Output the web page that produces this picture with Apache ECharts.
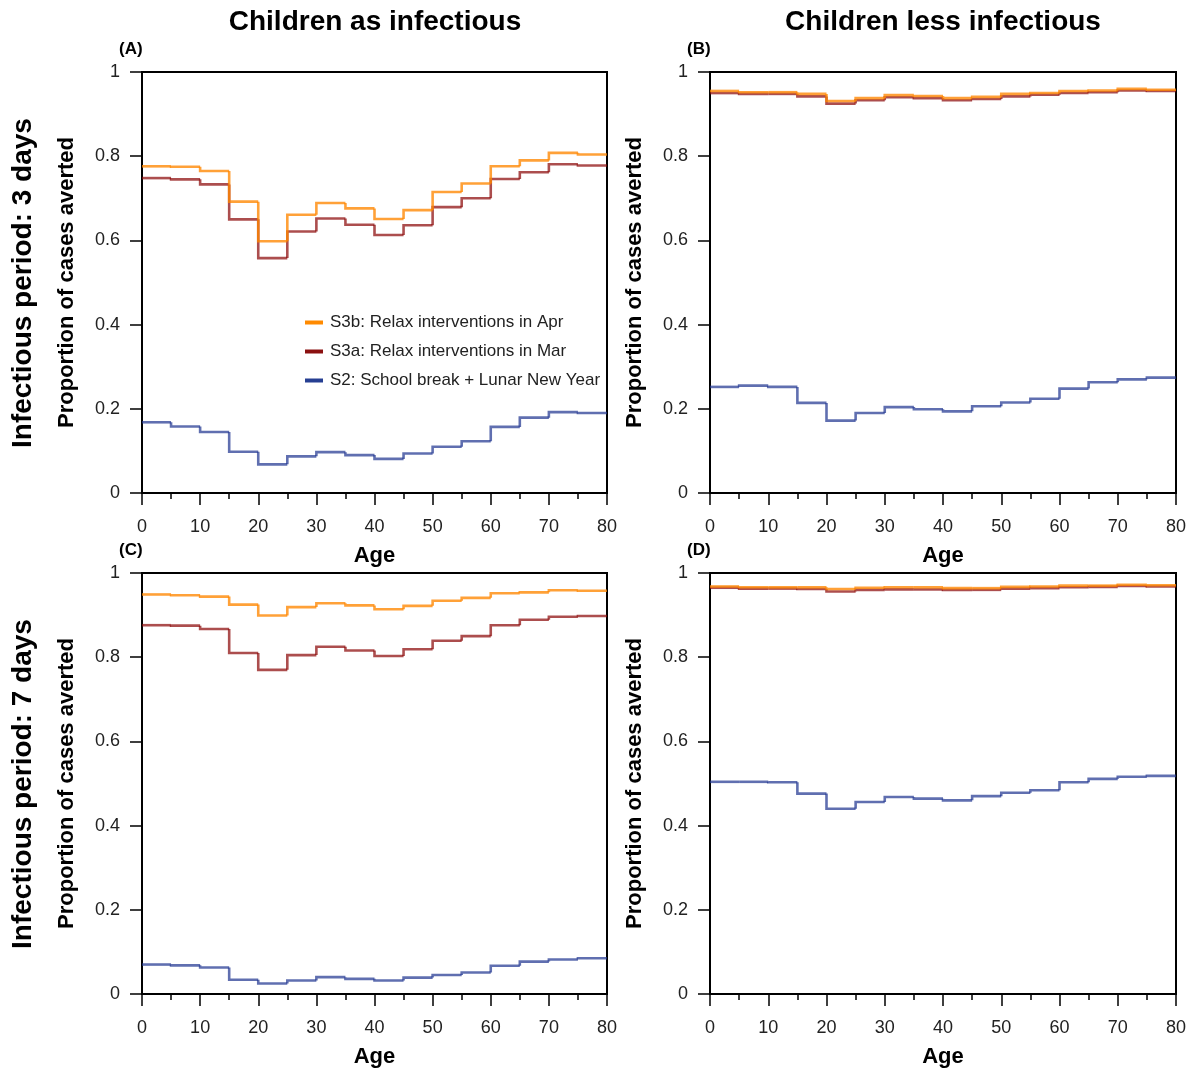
<!DOCTYPE html>
<html>
<head>
<meta charset="utf-8">
<script src="https://cdn.jsdelivr.net/npm/echarts@6/dist/echarts.min.js"></script>
<style>
  html, body { margin: 0; padding: 0; background: #fff; }
  #main { width: 1192px; height: 1070px; }
</style>
</head>
<body>
<div id="main"></div>
<script>
// age group lower bounds (5-year bins, last bin ends at 80)
const ages = [0, 5, 10, 15, 20, 25, 30, 35, 40, 45, 50, 55, 60, 65, 70, 75];
const ageMax = 80;

const seriesNames = ['S2: School break + Lunar New Year', 'S3a: Relax interventions in Mar', 'S3b: Relax interventions in Apr'];
const legendOrder = ['S3b: Relax interventions in Apr', 'S3a: Relax interventions in Mar', 'S2: School break + Lunar New Year'];

// (A) infectious 3 days, children as infectious
const a_S2  = [0.168, 0.158, 0.145, 0.098, 0.068, 0.087, 0.097, 0.090, 0.081, 0.094, 0.110, 0.123, 0.157, 0.179, 0.192, 0.190];
const a_S3a = [0.748, 0.745, 0.733, 0.650, 0.558, 0.621, 0.652, 0.637, 0.613, 0.636, 0.679, 0.700, 0.746, 0.762, 0.781, 0.778];
const a_S3b = [0.776, 0.775, 0.765, 0.692, 0.598, 0.661, 0.689, 0.676, 0.651, 0.672, 0.715, 0.735, 0.776, 0.790, 0.808, 0.804];

// (B) infectious 3 days, children less infectious
const b_S2  = [0.252, 0.255, 0.252, 0.214, 0.172, 0.190, 0.204, 0.199, 0.194, 0.206, 0.215, 0.224, 0.248, 0.263, 0.270, 0.274];
const b_S3a = [0.950, 0.948, 0.948, 0.942, 0.925, 0.933, 0.940, 0.938, 0.933, 0.936, 0.942, 0.946, 0.950, 0.952, 0.956, 0.955];
const b_S3b = [0.955, 0.952, 0.952, 0.948, 0.931, 0.938, 0.945, 0.943, 0.938, 0.941, 0.948, 0.950, 0.955, 0.956, 0.960, 0.958];

// (C) infectious 7 days, children as infectious
const c_S2  = [0.070, 0.068, 0.063, 0.034, 0.025, 0.032, 0.040, 0.036, 0.032, 0.039, 0.045, 0.051, 0.067, 0.077, 0.082, 0.085];
const c_S3a = [0.876, 0.875, 0.867, 0.810, 0.770, 0.805, 0.825, 0.816, 0.803, 0.819, 0.839, 0.850, 0.876, 0.889, 0.896, 0.898];
const c_S3b = [0.949, 0.947, 0.944, 0.925, 0.899, 0.919, 0.928, 0.923, 0.914, 0.922, 0.934, 0.941, 0.952, 0.954, 0.959, 0.958];

// (D) infectious 7 days, children less infectious
const d_S2  = [0.504, 0.504, 0.503, 0.476, 0.440, 0.456, 0.468, 0.464, 0.460, 0.470, 0.478, 0.484, 0.503, 0.511, 0.516, 0.518];
const d_S3a = [0.965, 0.963, 0.963, 0.962, 0.956, 0.960, 0.961, 0.961, 0.960, 0.960, 0.963, 0.964, 0.966, 0.967, 0.969, 0.968];
const d_S3b = [0.968, 0.966, 0.966, 0.966, 0.962, 0.965, 0.966, 0.966, 0.964, 0.964, 0.967, 0.968, 0.970, 0.970, 0.972, 0.971];

const panels = [
  { letter: '(A)', data: [a_S2, a_S3a, a_S3b], left: 142, top: 72, width: 465 },
  { letter: '(B)', data: [b_S2, b_S3a, b_S3b], left: 710, top: 72, width: 466 },
  { letter: '(C)', data: [c_S2, c_S3a, c_S3b], left: 142, top: 573, width: 465 },
  { letter: '(D)', data: [d_S2, d_S3a, d_S3b], left: 710, top: 573, width: 466 }
];

const lineColors = ['rgba(35,55,145,0.72)', 'rgba(140,10,10,0.72)', 'rgba(255,135,0,0.78)'];
const legendColors = { 'S3b: Relax interventions in Apr': '#ff8a00', 'S3a: Relax interventions in Mar': '#8b1010', 'S2: School break + Lunar New Year': '#263f92' };

const FONT = "'Liberation Sans', Arial, sans-serif";

// one item per age bin: [binStart, binEnd, value, previousValue]
function binData(vals) {
  return ages.map((a, i) => [a, i < ages.length - 1 ? ages[i + 1] : ageMax, vals[i], i > 0 ? vals[i - 1] : vals[i]]);
}

// draws the step for one bin: riser at binStart, then the flat top
function renderStep(params, api) {
  const p0 = api.coord([api.value(0), api.value(3)]);
  const p1 = api.coord([api.value(0), api.value(2)]);
  const p2 = api.coord([api.value(1), api.value(2)]);
  return {
    type: 'polyline',
    shape: { points: [p0, p1, p2] },
    style: { stroke: api.visual('color'), lineWidth: 2.6, fill: null, lineJoin: 'miter', lineCap: 'butt' }
  };
}

let grids = [], xAxes = [], yAxes = [], series = [], graphics = [];

panels.forEach((p, i) => {
  grids.push({ left: p.left, top: p.top, width: p.width, height: 421, outerBoundsMode: 'none', containLabel: false, show: true, borderColor: '#000', borderWidth: 2, backgroundColor: 'transparent' });
  xAxes.push({
    gridIndex: i, type: 'value', min: 0, max: ageMax, interval: 10,
    name: 'Age', nameLocation: 'middle', nameGap: 52,
    nameTextStyle: { fontFamily: FONT, fontWeight: 'bold', fontSize: 22, color: '#000' },
    axisLine: { show: true, onZero: false, lineStyle: { color: '#000', width: 2 } },
    axisTick: { show: true, length: 12, lineStyle: { color: '#000', width: 1.5 } },
    minorTick: { show: true, splitNumber: 2, length: 6, lineStyle: { color: '#000', width: 1.5 } },
    axisLabel: { margin: 25, fontFamily: FONT, fontSize: 18, color: '#222' },
    splitLine: { show: false }
  });
  yAxes.push({
    gridIndex: i, type: 'value', min: 0, max: 1, interval: 0.2,
    name: 'Proportion of cases averted', nameLocation: 'middle', nameGap: 64,
    nameTextStyle: { fontFamily: FONT, fontWeight: 'bold', fontSize: 22, color: '#000' },
    axisLine: { show: true, lineStyle: { color: '#000', width: 2 } },
    axisTick: { show: true, length: 12, lineStyle: { color: '#000', width: 1.5 } },
    axisLabel: { margin: 22, fontFamily: FONT, fontSize: 18, color: '#222', formatter: v => String(+v.toFixed(1)) },
    splitLine: { show: false }
  });
  p.data.forEach((vals, k) => {
    series.push({
      name: seriesNames[k], type: 'custom',
      xAxisIndex: i, yAxisIndex: i,
      data: binData(vals),
      encode: { x: [0, 1], y: [2, 3] },
      renderItem: renderStep,
      color: lineColors[k],
      itemStyle: { color: lineColors[k] },
      clip: false,
      animation: false
    });
  });
  graphics.push({
    type: 'text', left: p.left - 23, top: p.top - 31,
    style: { text: p.letter, fontFamily: FONT, fontWeight: 'bold', fontSize: 17, fill: '#000' }
  });
});

// column and row headers
graphics.push(
  { type: 'text', x: 375, y: 22, style: { text: 'Children as infectious', fontFamily: FONT, fontWeight: 'bold', fontSize: 28, fill: '#000', align: 'center', verticalAlign: 'middle' } },
  { type: 'text', x: 943, y: 22, style: { text: 'Children less infectious', fontFamily: FONT, fontWeight: 'bold', fontSize: 28, fill: '#000', align: 'center', verticalAlign: 'middle' } },
  { type: 'text', x: 23, y: 283, rotation: Math.PI / 2, style: { text: 'Infectious period: 3 days', fontFamily: FONT, fontWeight: 'bold', fontSize: 28, fill: '#000', align: 'center', verticalAlign: 'middle' } },
  { type: 'text', x: 23, y: 784, rotation: Math.PI / 2, style: { text: 'Infectious period: 7 days', fontFamily: FONT, fontWeight: 'bold', fontSize: 28, fill: '#000', align: 'center', verticalAlign: 'middle' } }
);

const chart = echarts.init(document.getElementById('main'), null, { renderer: 'canvas' });
chart.setOption({
  backgroundColor: '#fff',
  animation: false,
  grid: grids,
  xAxis: xAxes,
  yAxis: yAxes,
  legend: {
    orient: 'vertical', left: 300, top: 309,
    icon: 'rect', itemWidth: 18, itemHeight: 4, itemGap: 12,
    textStyle: { fontFamily: FONT, fontSize: 17, color: '#222', padding: [0, 0, 0, 2] },
    data: legendOrder.map(n => ({ name: n, itemStyle: { color: legendColors[n] } }))
  },
  graphic: graphics,
  series: series
});
</script>
</body>
</html>
